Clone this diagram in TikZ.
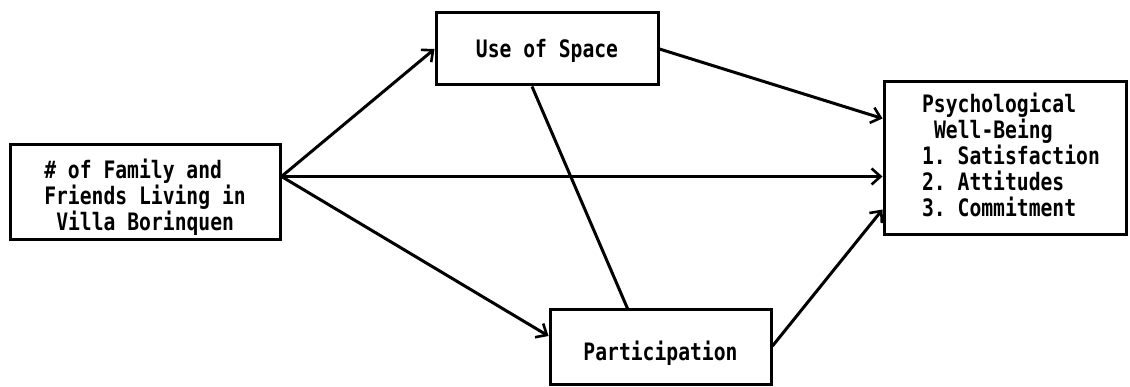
\documentclass[tikz,border=0pt]{standalone}
\usepackage{fontspec}
\setmonofont[FakeStretch=0.82]{DejaVu Sans Mono}
\usetikzlibrary{arrows.meta}
\begin{document}
\begin{tikzpicture}[x=1pt,y=-1pt,
  box/.style={draw, line width=3pt, rectangle, inner sep=0pt},
  txt/.style={inner sep=0pt, font=\ttfamily\bfseries\fontsize{24}{26}\selectfont},
  arr/.style={line width=3pt, -{Straight Barb[length=9pt,width=16pt,line width=2.6pt]}},
  link/.style={line width=3pt}]
  \useasboundingbox (0,0) rectangle (1130,387);

  % boxes
  \node[box, minimum width=270pt, minimum height=95pt] (fam) at (145,192.5) {};
  \node[box, txt, minimum width=222pt, minimum height=72pt,
        text height=22pt, text depth=4pt] (use) at (547,49) {Use of Space};
  \node[box, txt, minimum width=221pt, minimum height=74pt,
        text height=30pt, text depth=4pt] (part) at (660.5,347) {Participation};
  \node[box, minimum width=242pt, minimum height=153pt] (pwb) at (1005,158.5) {};

  % multi-line texts of the first and last box
  \node[txt, align=left] (famtext) at ([yshift=-5pt]fam.center)
    {\# of Family and\\Friends Living in\\\hspace*{12pt}Villa Borinquen};
  \node[txt, align=left] (pwbtext) at ([xshift=6pt,yshift=4pt]pwb.center)
    {Psychological\\\hspace*{12pt}Well-Being\\1. Satisfaction\\2. Attitudes\\3. Commitment};

  % common origin of the three paths leaving the first box
  \coordinate (fan) at ([yshift=16pt]fam.east);

  % paths
  \draw[arr] (fan) -- (use.west);
  \draw[arr] (fan) -- (pwb.west |- fan);
  \draw[arr] (fan) -- ([yshift=11pt]part.west);
  \draw[arr] (use.east) -- ([yshift=40pt]pwb.west);
  \draw[arr] ([yshift=1pt]part.east) -- ([yshift=-51pt]pwb.west);
  \draw[link] ([xshift=-15pt]use.south) -- ([xshift=-33pt]part.north);
\end{tikzpicture}
\end{document}
